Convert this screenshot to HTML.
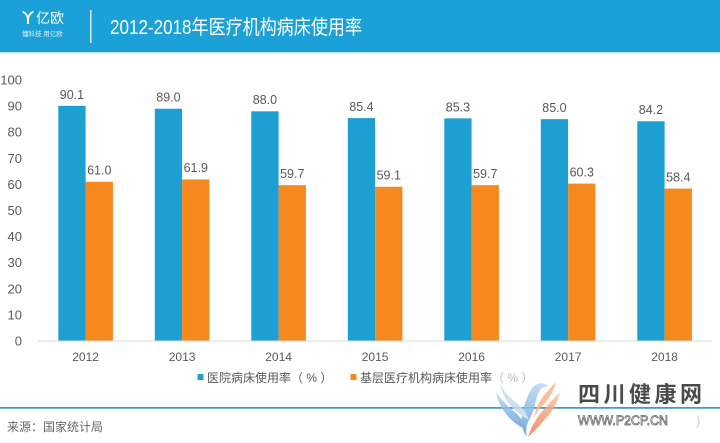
<!DOCTYPE html>
<html>
<head>
<meta charset="utf-8">
<style>
  html,body{margin:0;padding:0;background:#fff;}
  body{width:720px;height:443px;overflow:hidden;position:relative;font-family:"Liberation Sans","Noto Sans CJK SC",sans-serif;}
  svg{position:absolute;left:0;top:0;}
  text{font-family:"Liberation Sans","Noto Sans CJK SC",sans-serif;}
</style>
</head>
<body>
<svg width="720" height="443" viewBox="0 0 720 443" xmlns="http://www.w3.org/2000/svg">
  <defs>
    <linearGradient id="gb" x1="0" y1="0" x2="0" y2="1">
      <stop offset="0" stop-color="#b9d6f0"/>
      <stop offset="1" stop-color="#5f9fd8"/>
    </linearGradient>
    <linearGradient id="go" x1="0" y1="0" x2="0" y2="1">
      <stop offset="0" stop-color="#f7c7a0"/>
      <stop offset="1" stop-color="#ee7a55"/>
    </linearGradient>
  </defs>

  <!-- header -->
  <rect x="0" y="0" width="720" height="52" fill="#1ba1d7"/>
  <rect x="0" y="52" width="720" height="1.5" fill="#7fc6e6" opacity="0.5"/>
  <!-- logo -->
  <path d="M22 11 Q26 11 28 16 Q30 11 34 11 L33 13 Q30 14 29 19 L29 24 L27 24 L27 19 Q26 14 23 13 Z" fill="#fff"/>
  <text x="36" y="23" font-size="14" fill="#fff">亿欧</text>
  <text x="22" y="36" font-size="6.5" fill="#fff" opacity="0.85">懂科技 用亿欧</text>
  <rect x="90" y="10" width="1.5" height="33" fill="#fff" opacity="0.8"/>
  <text x="110" y="34" font-size="20" fill="#fff" textLength="252" lengthAdjust="spacingAndGlyphs">2012-2018年医疗机构病床使用率</text>

  <!-- y axis labels -->
  <g font-size="13" fill="#595959" text-anchor="end">
    <text x="22" y="345.5">0</text>
    <text x="22" y="319.4">10</text>
    <text x="22" y="293.3">20</text>
    <text x="22" y="267.2">30</text>
    <text x="22" y="241.1">40</text>
    <text x="22" y="215">50</text>
    <text x="22" y="188.9">60</text>
    <text x="22" y="162.8">70</text>
    <text x="22" y="136.7">80</text>
    <text x="22" y="110.6">90</text>
    <text x="22" y="84.5">100</text>
  </g>

  <!-- bars -->
  <g fill="#1e9fd4">
    <rect x="58.3" y="105.84" width="27.3" height="235.16"/>
    <rect x="154.8" y="108.71" width="27.3" height="232.29"/>
    <rect x="251.3" y="111.32" width="27.3" height="229.68"/>
    <rect x="347.8" y="118.11" width="27.3" height="222.89"/>
    <rect x="444.3" y="118.37" width="27.3" height="222.63"/>
    <rect x="540.8" y="119.15" width="27.3" height="221.85"/>
    <rect x="637.3" y="121.24" width="27.3" height="219.76"/>
  </g>
  <g fill="#f5891f">
    <rect x="85.6" y="181.79" width="27.3" height="159.21"/>
    <rect x="182.1" y="179.44" width="27.3" height="161.56"/>
    <rect x="278.6" y="185.18" width="27.3" height="155.82"/>
    <rect x="375.1" y="186.75" width="27.3" height="154.25"/>
    <rect x="471.6" y="185.18" width="27.3" height="155.82"/>
    <rect x="568.1" y="183.62" width="27.3" height="157.38"/>
    <rect x="664.6" y="188.58" width="27.3" height="152.42"/>
  </g>

  <!-- axis -->
  <rect x="38" y="340.5" width="674" height="1" fill="#d9d9d9"/>

  <!-- value labels -->
  <g font-size="12.5" fill="#595959" text-anchor="middle">
    <text x="71.95" y="99">90.1</text>
    <text x="168.45" y="101.5">89.0</text>
    <text x="264.95" y="104">88.0</text>
    <text x="361.45" y="111">85.4</text>
    <text x="457.95" y="111.3">85.3</text>
    <text x="554.45" y="112">85.0</text>
    <text x="650.95" y="114">84.2</text>

    <text x="99.25" y="174.5">61.0</text>
    <text x="195.75" y="172.2">61.9</text>
    <text x="292.25" y="178">59.7</text>
    <text x="388.75" y="179.5">59.1</text>
    <text x="485.25" y="178">59.7</text>
    <text x="581.75" y="176.4">60.3</text>
    <text x="678.25" y="181.3">58.4</text>
  </g>

  <!-- x labels -->
  <g font-size="12" fill="#595959" text-anchor="middle">
    <text x="85.6" y="361">2012</text>
    <text x="182.1" y="361">2013</text>
    <text x="278.6" y="361">2014</text>
    <text x="375.1" y="361">2015</text>
    <text x="471.6" y="361">2016</text>
    <text x="568.1" y="361">2017</text>
    <text x="664.6" y="361">2018</text>
  </g>

  <!-- legend -->
  <rect x="197.5" y="374" width="6" height="6" fill="#1e9fd4"/>
  <text x="207" y="382" font-size="12" fill="#595959">医院病床使用率（ % ）</text>
  <rect x="350.5" y="374" width="6" height="6" fill="#f5891f"/>
  <text x="360" y="382" font-size="12" fill="#595959">基层医疗机构病床使用率<tspan fill="#bbb">（ % ）</tspan></text>

  <!-- separator -->
  <rect x="0" y="407" width="720" height="1.8" fill="#4a9cc4"/>

  <!-- source -->
  <text x="7" y="431" font-size="12" fill="#666">来源：国家统计局</text>

  <!-- watermark bird -->
  <g opacity="0.85">
    <path d="M532 388 Q540 380 548 386 L542 388 Q538 392 536 400 Q534 412 528 422 Q525 430 527 437 Q520 428 522 415 Q524 402 532 388 Z" fill="url(#gb)"/>
    <path d="M496 392 Q505 405 515 412 Q522 418 527 430 Q515 425 506 414 Q498 404 496 392 Z" fill="url(#gb)"/>
    <path d="M500 384 Q508 398 518 404 Q526 410 529 420 Q518 414 509 404 Q502 395 500 384 Z" fill="#c5dcf2"/>
    <path d="M560 392 Q556 408 546 418 Q538 428 528 437 Q532 424 540 414 Q550 402 560 392 Z" fill="url(#go)"/>
    <path d="M556 382 Q552 396 544 404 Q538 410 534 418 Q536 406 542 398 Q548 390 556 382 Z" fill="#f6b48e"/>
  </g>
  <text x="578" y="402" font-size="22" font-weight="bold" fill="#4a4a4a" textLength="124" lengthAdjust="spacing">四川健康网</text>
  <text x="578" y="425" font-size="14" fill="#fff" stroke="#666" stroke-width="0.8" textLength="90" lengthAdjust="spacingAndGlyphs">WWW.P2CP.CN</text>
  <text x="696" y="425" font-size="13" fill="#ccc">)</text>
</svg>
</body>
</html>
